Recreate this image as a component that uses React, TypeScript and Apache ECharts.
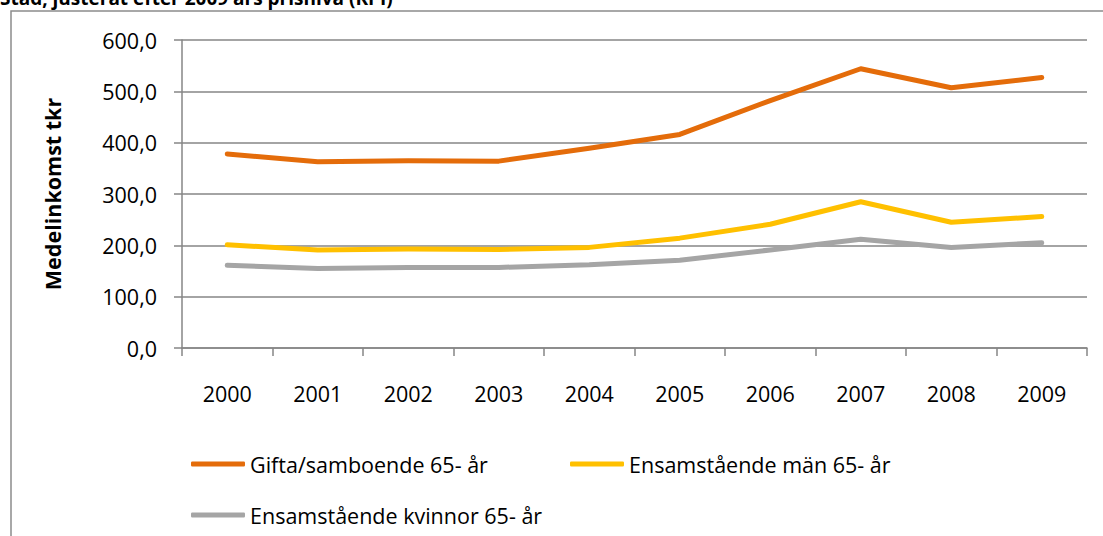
import React, { useEffect, useRef } from "react";
import * as echarts from "echarts";

const years = ["2000", "2001", "2002", "2003", "2004", "2005", "2006", "2007", "2008", "2009"];
const gifta = [378, 363, 365, 364, 389, 416, 482, 544, 507, 527];
const man = [201, 191, 193, 192, 196, 214, 241, 285, 245, 256];
const kvinnor = [161, 155, 157, 157, 162, 171, 191, 212, 196, 205];
const seriesNames = ["Gifta/samboende 65- år", "Ensamstående män 65- år", "Ensamstående kvinnor 65- år"];
const colors = ["#E46C0A", "#FFC000", "#A5A5A5"];
const titleText = "Stad, justerat efter 2009 års prisnivå (KPI)";
const yName = "Medelinkomst tkr";

const FONT = "'Open Sans', sans-serif";

export default function App() {
  const ref = useRef<HTMLDivElement>(null);
  useEffect(() => {
    if (!ref.current) return;
    const chart = echarts.init(ref.current, undefined, { renderer: "svg" });
    const data = [gifta, man, kvinnor];
    const legendPos = [
      { left: 191, top: 453 },
      { left: 570, top: 453 },
      { left: 191, top: 504 },
    ];
    chart.setOption({
      animation: false,
      backgroundColor: "#ffffff",
      textStyle: { fontFamily: FONT },
      grid: { left: 182, right: 16, top: 40, bottom: 188, containLabel: false },
      graphic: [
        {
          type: "rect",
          shape: { x: 11, y: 11, width: 1200, height: 700 },
          style: { fill: "none", stroke: "#8c8c8c", lineWidth: 1.5 },
          silent: true,
        },
        {
          type: "text",
          left: 0,
          top: -12,
          style: {
            text: titleText,
            fontFamily: FONT,
            fontWeight: "bold",
            fontSize: 19,
            fill: "#000000",
          },
        },
      ],
      legend: seriesNames.map((n, i) => ({
        data: [n],
        left: legendPos[i].left,
        top: legendPos[i].top,
        orient: "horizontal",
        itemWidth: 54,
        itemHeight: 5,
        icon: "roundRect",
        padding: 0,
        textStyle: { fontFamily: FONT, fontSize: 21.5, color: "#000000" },
        selectedMode: false,
      })),
      xAxis: {
        type: "category",
        data: years,
        boundaryGap: true,
        axisLine: { lineStyle: { color: "#868686", width: 1.5 } },
        axisTick: { show: true, length: 8, lineStyle: { color: "#868686", width: 1.5 } },
        axisLabel: { color: "#000000", fontSize: 21.5, fontFamily: FONT, margin: 33, lineHeight: 24 },
        splitLine: { show: false },
      },
      yAxis: {
        type: "value",
        min: 0,
        max: 600,
        interval: 100,
        name: yName,
        nameLocation: "middle",
        nameRotate: 90,
        nameGap: 119,
        nameTextStyle: { fontFamily: FONT, fontWeight: "bold", fontSize: 21.5, color: "#000000" },
        axisLine: { show: true, lineStyle: { color: "#868686", width: 1.5 } },
        axisTick: { show: true, length: 8, inside: false, lineStyle: { color: "#868686", width: 1.5 } },
        axisLabel: {
          color: "#000000",
          fontSize: 21.5,
          fontFamily: FONT,
          margin: 25,
          formatter: (v: number) => v.toFixed(1).replace(".", ","),
        },
        splitLine: { show: true, lineStyle: { color: "#868686", width: 1.5 } },
      },
      series: seriesNames.map((n, i) => ({
        name: n,
        type: "line",
        data: data[i],
        symbol: "none",
        showSymbol: false,
        lineStyle: { color: colors[i], width: 5, cap: "round", join: "round" },
        itemStyle: { color: colors[i] },
        z: 3 - i + 2,
      })),
    });
    return () => chart.dispose();
  }, []);
  return (
    <div
      ref={ref}
      style={{ position: "fixed", left: 0, top: 0, width: 1103, height: 536, background: "#fff" }}
    />
  );
}
